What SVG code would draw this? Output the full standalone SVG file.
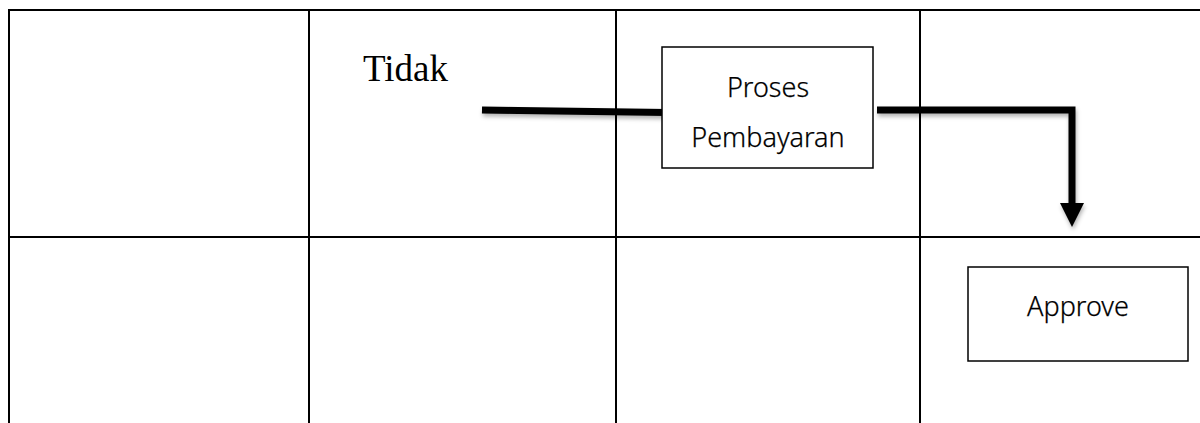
<svg xmlns="http://www.w3.org/2000/svg" width="1200" height="423" viewBox="0 0 1200 423">
<defs>
<style>
.grid{stroke:#000;stroke-width:2;fill:none}
.box{fill:#fff;stroke:#000;stroke-width:1.5}
.lbl{font-family:"Noto Sans","Open Sans",sans-serif;font-weight:300;font-size:27px;fill:#000;stroke:#000;stroke-width:0.25;text-anchor:middle}
.tidak{font-family:"Liberation Serif",serif;font-size:37px;fill:#000}
.conn{stroke:#000;stroke-width:7;fill:none}
</style>
<filter id="sh" x="-10%" y="-50%" width="120%" height="200%">
<feDropShadow dx="1" dy="3" stdDeviation="2" flood-color="#000" flood-opacity="0.3"/>
</filter>
<marker id="ah" markerWidth="24" markerHeight="24" refX="2" refY="12" orient="auto" markerUnits="userSpaceOnUse" viewBox="0 0 24 24">
<path d="M0,0 L24,12 L0,24 Z" fill="#000"/>
</marker>
</defs>
<rect width="1200" height="423" fill="#fff"/>
<g id="table">
<line class="grid" x1="8" y1="10" x2="1200" y2="10"/>
<line class="grid" x1="8" y1="237" x2="1200" y2="237"/>
<line class="grid" x1="9" y1="9" x2="9" y2="423"/>
<line class="grid" x1="309" y1="10" x2="309" y2="423"/>
<line class="grid" x1="616" y1="10" x2="616" y2="423"/>
<line class="grid" x1="920" y1="10" x2="920" y2="423"/>
</g>
<g id="label-tidak">
<text class="tidak" x="363" y="81">Tidak</text>
</g>
<g id="connectors" filter="url(#sh)">
<path class="conn" d="M482,110 L667,112.5"/>
<path class="conn" d="M877,110 L1072,110 L1072,205" marker-end="url(#ah)"/>
</g>
<g id="node-proses">
<rect class="box" x="662" y="47" width="211" height="121"/>
<text class="lbl" x="768" y="97">Proses</text>
<text class="lbl" x="768" y="147">Pembayaran</text>
</g>
<g id="node-approve">
<rect class="box" x="968" y="267" width="220" height="94"/>
<text class="lbl" x="1078" y="316">Approve</text>
</g>
</svg>
